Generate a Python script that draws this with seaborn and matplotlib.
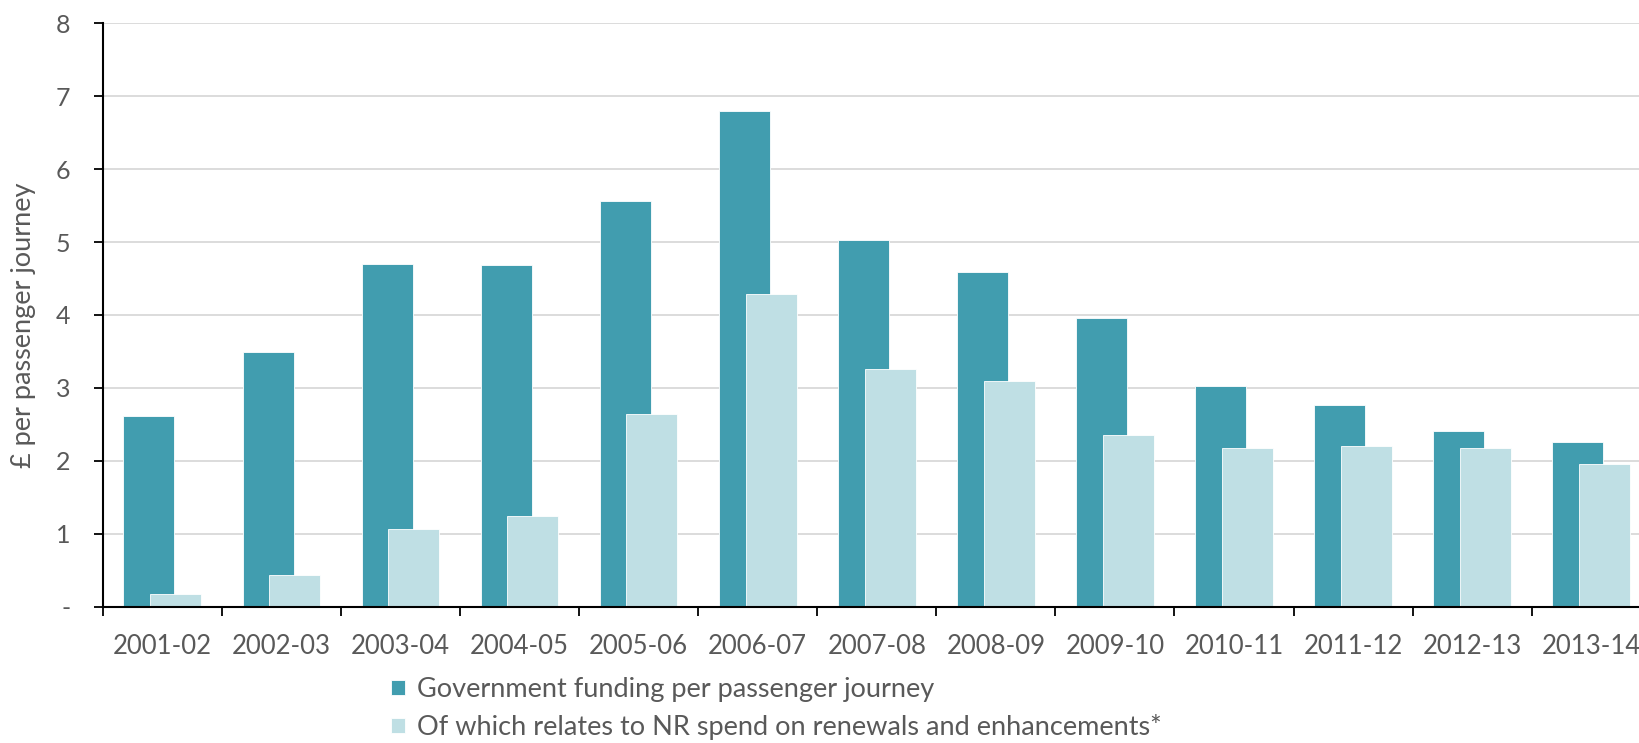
import numpy as np
import pandas as pd
import matplotlib
matplotlib.use("Agg")
import matplotlib.pyplot as plt
from matplotlib.ticker import FixedLocator, FixedFormatter
import seaborn as sns

# Financial years on the x axis
years = ["2001-02", "2002-03", "2003-04", "2004-05", "2005-06", "2006-07", "2007-08",
         "2008-09", "2009-10", "2010-11", "2011-12", "2012-13", "2013-14"]

# £ per passenger journey
gov_funding = [2.62, 3.49, 4.70, 4.68, 5.56, 6.79, 5.03, 4.59, 3.96, 3.03, 2.77, 2.41, 2.26]
nr_renewals = [0.18, 0.43, 1.06, 1.24, 2.64, 4.29, 3.26, 3.10, 2.36, 2.18, 2.20, 2.17, 1.96]

series_labels = ["Government funding per passenger journey",
                 "Of which relates to NR spend on renewals and enhancements*"]
y_ticks = [0, 1, 2, 3, 4, 5, 6, 7, 8]
y_tick_labels = ["-", "1", "2", "3", "4", "5", "6", "7", "8"]

DARK = "#419DAF"
LIGHT = "#BFDFE4"
TEXT = "#595959"
GRID = "#D9D9D9"

sns.set_theme(style="white")
plt.rcParams["font.family"] = ["Lato", "DejaVu Sans"]

# overlapping pairs: each bar is shifted a little from the category centre
shift = 0.112
bar_w = 0.428
idx = np.arange(len(years))
df_gov = pd.DataFrame({"pos": idx - shift, "value": gov_funding})
df_nr = pd.DataFrame({"pos": idx + shift, "value": nr_renewals})

fig = plt.figure(figsize=(16.39, 7.43), dpi=100)
ax = fig.add_axes([0.0627, 0.1835, 0.9445, 0.7852])

sns.barplot(data=df_gov, x="pos", y="value", native_scale=True, width=bar_w,
            color=DARK, saturation=1, errorbar=None, edgecolor="white",
            linewidth=0.6, label=series_labels[0], ax=ax, zorder=2)
sns.barplot(data=df_nr, x="pos", y="value", native_scale=True, width=bar_w,
            color=LIGHT, saturation=1, errorbar=None, edgecolor="white",
            linewidth=0.6, label=series_labels[1], ax=ax, zorder=3)
if ax.get_legend() is not None:
    ax.get_legend().remove()

ax.set_xlim(-0.5, len(years) - 0.5)
ax.set_ylim(0, 8)

# tick marks at category boundaries, labels centred in each category
ax.xaxis.set_major_locator(FixedLocator(np.arange(len(years) + 1) - 0.5))
ax.xaxis.set_major_formatter(FixedFormatter([""] * (len(years) + 1)))
ax.xaxis.set_minor_locator(FixedLocator(idx))
ax.xaxis.set_minor_formatter(FixedFormatter(years))
ax.tick_params(axis="x", which="major", direction="out", length=6.5, width=1.3,
               color="black", bottom=True)
ax.tick_params(axis="x", which="minor", length=0, pad=20, labelsize=18.5,
               labelcolor=TEXT, bottom=True)

ax.set_yticks(y_ticks)
ax.set_yticklabels(y_tick_labels)
ax.tick_params(axis="y", direction="out", length=6.5, width=1.3, color="black",
               left=True, pad=17, labelsize=18, labelcolor=TEXT)

ax.set_xlabel("")
ax.set_ylabel("£ per passenger journey", fontsize=19.5, color=TEXT)
ax.yaxis.set_label_coords(-0.043, 0.483)

ax.yaxis.grid(True, color=GRID, linewidth=1.3)
ax.xaxis.grid(False)
ax.set_axisbelow(True)

for side in ["top", "right"]:
    ax.spines[side].set_visible(False)
for side in ["left", "bottom"]:
    ax.spines[side].set_color("black")
    ax.spines[side].set_linewidth(1.5)
    ax.spines[side].set_zorder(4)

handles = [ax.containers[0], ax.containers[1]]
leg = fig.legend(handles, series_labels, loc="upper left",
                 bbox_to_anchor=(0.2386, 0.089), frameon=False, fontsize=19.5,
                 handlelength=0.5, handleheight=0.5, handletextpad=0.45,
                 labelspacing=0.45, borderaxespad=0, borderpad=0)
for t in leg.get_texts():
    t.set_color(TEXT)

fig.savefig("out.png", dpi=100)
